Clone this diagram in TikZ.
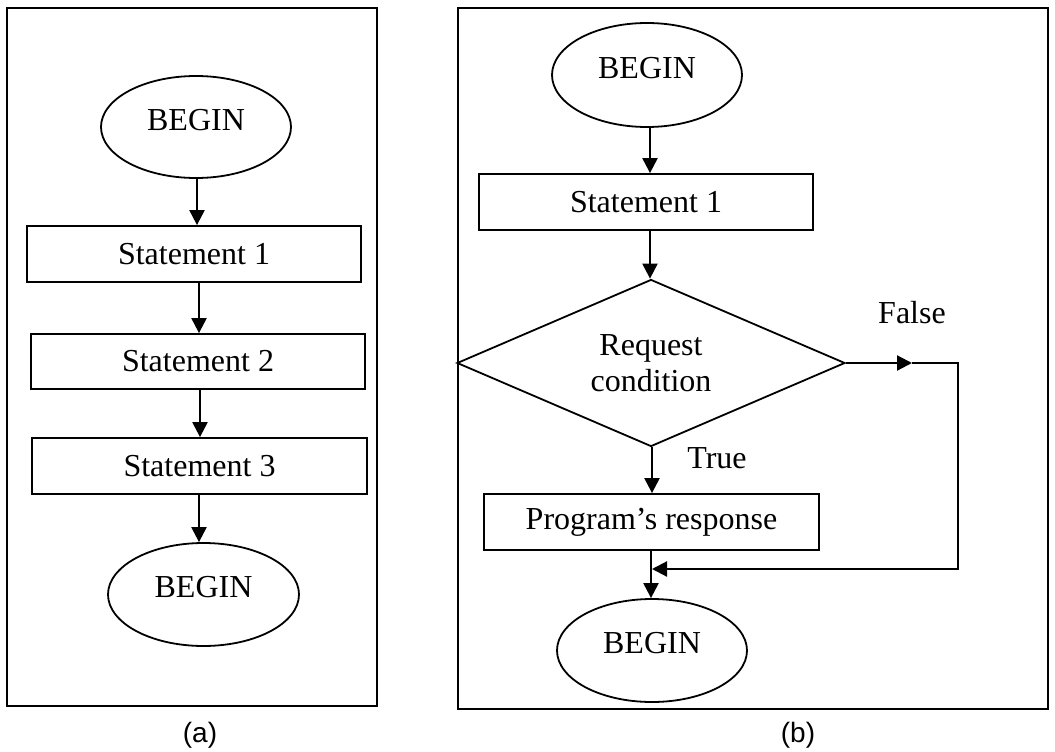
\documentclass[tikz,border=0pt]{standalone}
\usepackage{fontspec}
\setmainfont{Liberation Serif}
\newfontfamily\capfont{Liberation Sans}
\usetikzlibrary{shapes.geometric,arrows.meta}
\tikzset{
  frame/.style={line width=2.2pt},
  term/.style={draw, ellipse, line width=1.8pt, inner sep=0pt, minimum width=190pt, minimum height=102pt},
  stmt/.style={draw, rectangle, line width=1.8pt, inner sep=0pt, minimum width=334pt, minimum height=56pt, font=\fontsize{32}{36}\selectfont},
  cond/.style={draw, diamond, line width=1.8pt, inner sep=0pt, aspect=2.32, minimum width=388pt, minimum height=167pt, align=center, font=\fontsize{32}{36}\selectfont},
  txt/.style={inner sep=0pt, font=\fontsize{32}{36}\selectfont},
  captxt/.style={inner sep=0pt, font=\capfont\fontsize{28}{32}\selectfont},
  arr/.style={line width=2.2pt, -{Triangle[length=15pt,width=15pt]}},
  conn/.style={line width=2.2pt}
}
\begin{document}
\begin{tikzpicture}[x=1pt,y=-1pt]
\useasboundingbox (0,0) rectangle (1055,752);
% frames
\draw[frame] (7,8) rectangle (377,706);
\draw[frame] (458,8) rectangle (1048,709);
% ---- panel (a)
\node[term] (a0) at (196,127) {};
\node[txt] (a0t) at ([yshift=7pt]a0.center) {BEGIN};
\node[stmt] (a1) at (194,254) {Statement 1};
\node[stmt, minimum height=55pt] (a2) at (198,361.5) {Statement 2};
\node[stmt, minimum width=335pt] (a3) at (199.5,466) {Statement 3};
\node[term, minimum width=191pt, minimum height=103pt] (a4) at (203.5,594.5) {};
\node[txt] (a4t) at ([yshift=7pt]a4.center) {BEGIN};
\draw[arr] ([xshift=1pt]a0.south) -- ([xshift=1pt]a0.south |- a1.north);
\draw[arr] ([xshift=5pt]a1.south) -- ([xshift=5pt]a1.south |- a2.north);
\draw[arr] ([xshift=2pt]a2.south) -- ([xshift=2pt]a2.south |- a3.north);
\draw[arr] ([xshift=-0.5pt]a3.south) -- ([xshift=-0.5pt]a3.south |- a4.north);
\node[captxt] (capa) at (200,735) {(a)};
% ---- panel (b)
\node[term, minimum height=104pt] (b0) at (647,75) {};
\node[txt] (b0t) at ([yshift=7pt]b0.center) {BEGIN};
\node[stmt] (b1) at (646,202) {Statement 1};
\node[cond] (b2) at (651,363) {Request\\condition};
\node[stmt, minimum width=335pt] (b3) at (651.5,522) {Program’s response};
\node[term, minimum height=103pt] (b4) at (652,650.5) {};
\node[txt] (b4t) at ([yshift=7pt]b4.center) {BEGIN};
\draw[arr] ([xshift=3pt]b0.south) -- ([xshift=3pt]b0.south |- b1.north);
\draw[arr] ([xshift=4pt]b1.south) -- ([xshift=4pt]b1.south |- b2.north);
\draw[arr] ([xshift=1pt]b2.south) -- ([xshift=1pt]b2.south |- b3.north);
\draw[arr] ([xshift=-0.5pt]b3.south) -- ([xshift=-0.5pt]b3.south |- b4.north);
\coordinate (fmid) at (912,363);
\coordinate (fcor) at (958,363);
\coordinate (bcor) at (958,569);
\coordinate (bend) at (652,569);
\draw[arr] (b2.east) -- (fmid);
\draw[arr] (fmid) -- (fcor) -- (bcor) -- (bend);
\node[txt] (ftxt) at (912,313) {False};
\node[txt] (ttxt) at (717,458) {True};
\node[captxt] (capb) at (798,735) {(b)};
\end{tikzpicture}
\end{document}
